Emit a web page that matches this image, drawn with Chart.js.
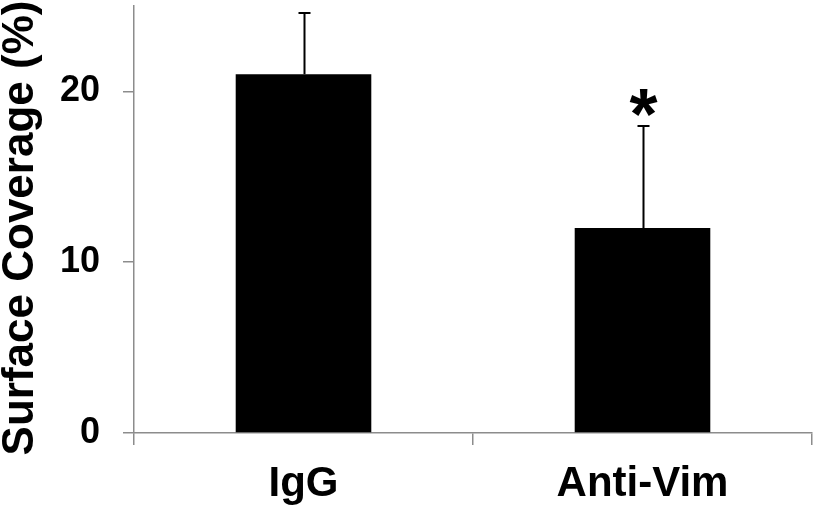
<!DOCTYPE html>
<html>
<head>
<meta charset="utf-8">
<script src="https://cdn.jsdelivr.net/npm/chart.js@4"></script>
<style>
  html, body { margin: 0; padding: 0; background: #fff; }
  #wrap { width: 817px; height: 509px; }
</style>
</head>
<body>
<div id="wrap"><canvas id="myChart" width="817" height="509"></canvas></div>
<script>
// data
var categories = ['IgG', 'Anti-Vim'];
var coverage = [21, 12];
var errorTop = [24.6, 18];
var marks = ['', '*'];
var yTicks = [0, 10, 20];
var yTitle = 'Surface Coverage (%)';

var axisGrey = '#8c8c8c';
var font = 'Liberation Sans, Arial, sans-serif';

// draws the upper error bars and the significance star
var errorBars = {
    id: 'errorBars',
    afterDatasetsDraw: function(chart) {
        var ctx = chart.ctx;
        var x = chart.scales.x, y = chart.scales.y;
        ctx.save();
        ctx.strokeStyle = '#000';
        ctx.lineWidth = 2;
        for (var i = 0; i < coverage.length; i++) {
            var px = Math.round(x.getPixelForValue(i)) + 0.5;
            var y0 = y.getPixelForValue(coverage[i]);
            var y1 = Math.round(y.getPixelForValue(errorTop[i]));
            ctx.beginPath();
            ctx.moveTo(px, y0);
            ctx.lineTo(px, y1);
            ctx.moveTo(px - 6, y1);
            ctx.lineTo(px + 6, y1);
            ctx.stroke();
            if (marks[i]) {
                ctx.fillStyle = '#000';
                ctx.font = 'bold 72px ' + font;
                ctx.textAlign = 'center';
                ctx.textBaseline = 'alphabetic';
                ctx.fillText(marks[i], px, y1 + 13);
            }
        }
        ctx.restore();
    }
};

// y title, drawn a little lower than the axis centre like the original
var sideTitle = {
    id: 'sideTitle',
    afterDraw: function(chart) {
        var ctx = chart.ctx;
        ctx.save();
        ctx.translate(20.5, 228);
        ctx.rotate(-Math.PI / 2);
        ctx.fillStyle = '#000';
        ctx.font = 'bold 44px ' + font;
        ctx.textAlign = 'center';
        ctx.textBaseline = 'middle';
        ctx.fillText(yTitle, 0, 0);
        ctx.restore();
    }
};

var ctx = document.getElementById('myChart').getContext('2d');
window.myChart = new Chart(ctx, {
    type: 'bar',
    data: {
        labels: categories,
        datasets: [{
            data: coverage,
            backgroundColor: '#000',
            borderWidth: 0,
            categoryPercentage: 1,
            barPercentage: 0.4
        }]
    },
    options: {
        responsive: false,
        animation: false,
        layout: { padding: { top: 6, right: 5, left: 0, bottom: 0 } },
        plugins: {
            legend: { display: false },
            tooltip: { enabled: false }
        },
        scales: {
            x: {
                afterFit: function(s) {
                    s.height = 76;
                    s.paddingLeft = 0;
                    s.paddingRight = 0;
                },
                grid: {
                    display: true,
                    drawOnChartArea: false,
                    drawTicks: true,
                    tickLength: 12,
                    color: axisGrey,
                    lineWidth: 1.5
                },
                border: { color: axisGrey, width: 1.5 },
                ticks: {
                    color: '#000',
                    padding: 14,
                    font: { family: font, size: 42, weight: 'bold' }
                }
            },
            y: {
                min: 0,
                max: 25,
                afterFit: function(s) {
                    s.width = 134;
                    s.paddingTop = 0;
                    s.paddingBottom = 0;
                },
                afterBuildTicks: function(s) {
                    s.ticks = yTicks.map(function(v) { return { value: v }; });
                },
                grid: {
                    display: true,
                    drawOnChartArea: false,
                    drawTicks: true,
                    tickLength: 11,
                    color: axisGrey,
                    lineWidth: 1.5
                },
                border: { color: axisGrey, width: 1.5 },
                ticks: {
                    color: '#000',
                    padding: 23,
                    font: { family: font, size: 36, weight: 'bold' }
                }
            }
        }
    },
    plugins: [errorBars, sideTitle]
});
</script>
</body>
</html>
